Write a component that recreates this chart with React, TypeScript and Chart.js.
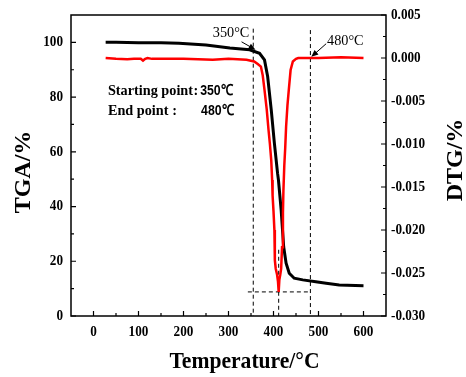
import React, { useEffect, useRef } from "react";
import { Chart, registerables } from "chart.js";

Chart.register(...registerables);

// ---- data ----
const tgaTemp = [27, 50, 100, 150, 190, 250, 303, 347, 369, 380, 387, 395, 402, 409, 411, 415, 417, 422.6, 428, 435, 446, 465, 494, 517, 546, 600];
const tgaValues = [100, 100, 99.9, 99.9, 99.7, 99.0, 97.9, 97.3, 96.0, 93.6, 87.5, 75.3, 63.1, 52.2, 49.7, 42.4, 38.8, 25.3, 19.3, 15.6, 13.8, 13.2, 12.5, 12.0, 11.3, 11.1];

const dtgTemp = [27, 50, 75, 90, 105, 110, 115, 120, 130, 200, 265, 300, 340, 357, 365, 372, 376, 380, 385, 389, 392, 395, 397, 398, 400, 402, 403, 405, 408, 410, 411.5, 413, 415, 417, 419, 421, 422, 424, 426, 428, 431, 434, 438, 443, 450, 455, 500, 550, 600];
const dtgValues = [0, -0.0001, -0.00015, -0.0001, -0.0001, -0.0003, -0.0001, 0, -0.0001, -0.0001, -0.0002, -0.0001, -0.0002, -0.0004, -0.0007, -0.001, -0.002, -0.0037, -0.006, -0.0084, -0.01, -0.0119, -0.0142, -0.016, -0.0178, -0.02, -0.0235, -0.0245, -0.0252, -0.026, -0.0272, -0.0258, -0.0252, -0.0245, -0.022, -0.018, -0.0155, -0.0125, -0.0105, -0.008, -0.0055, -0.0037, -0.0014, -0.0004, -0.0001, 0, 0, 0.0001, 0];

const startTemp = 355;
const endTemp = 482;
const peakTemp = 411.5;
const peakDtg = -0.0272;

const xMajor = [0, 100, 200, 300, 400, 500, 600];
const xMinor = [50, 150, 250, 350, 450, 550];
const yMajor = [0, 20, 40, 60, 80, 100];
const yMinor = [10, 30, 50, 70, 90];
const y1Major = [0.005, 0, -0.005, -0.01, -0.015, -0.02, -0.025, -0.03];
const y1Minor = [0.0025, -0.0025, -0.0075, -0.0125, -0.0175, -0.0225, -0.0275];

const xTitle = "Temperature/°C";
const yTitle = "TGA/%";
const y1Title = "DTG/%";

const SERIF = "'Liberation Serif', 'Times New Roman', serif";
const SANS = "'Liberation Sans', Arial, sans-serif";
const SQ = 0.88;

function txt(ctx: CanvasRenderingContext2D, s: string, x: number, y: number, font: string, align: CanvasTextAlign, base: CanvasTextBaseline, sx = SQ) {
  ctx.save();
  ctx.font = font;
  ctx.textAlign = align;
  ctx.textBaseline = base;
  ctx.translate(x, y);
  ctx.scale(sx, 1);
  ctx.fillStyle = "#000";
  ctx.fillText(s, 0, 0);
  ctx.restore();
}

function arrow(ctx: CanvasRenderingContext2D, x0: number, y0: number, x1: number, y1: number) {
  const a = Math.atan2(y1 - y0, x1 - x0);
  const L = 7, W = 3;
  ctx.save();
  ctx.strokeStyle = "#000";
  ctx.fillStyle = "#000";
  ctx.lineWidth = 1;
  ctx.beginPath();
  ctx.moveTo(x0, y0);
  ctx.lineTo(x1 - Math.cos(a) * L * 0.8, y1 - Math.sin(a) * L * 0.8);
  ctx.stroke();
  ctx.beginPath();
  ctx.moveTo(x1, y1);
  ctx.lineTo(x1 - Math.cos(a) * L - Math.sin(a) * W, y1 - Math.sin(a) * L + Math.cos(a) * W);
  ctx.lineTo(x1 - Math.cos(a) * L + Math.sin(a) * W, y1 - Math.sin(a) * L - Math.cos(a) * W);
  ctx.closePath();
  ctx.fill();
  ctx.restore();
}

const decorPlugin = {
  id: "decor",
  afterDraw(chart: any) {
    const { ctx, chartArea: ca, scales } = chart;
    const sx = scales.x, sy = scales.y, sy1 = scales.y1;
    ctx.save();
    // frame
    ctx.strokeStyle = "#000";
    ctx.lineWidth = 1.5;
    ctx.strokeRect(ca.left, ca.top, ca.right - ca.left, ca.bottom - ca.top);
    // ticks
    ctx.lineWidth = 1.2;
    ctx.beginPath();
    xMajor.forEach((v) => { const p = sx.getPixelForValue(v); ctx.moveTo(p, ca.bottom); ctx.lineTo(p, ca.bottom - 5); });
    xMinor.forEach((v) => { const p = sx.getPixelForValue(v); ctx.moveTo(p, ca.bottom); ctx.lineTo(p, ca.bottom - 3); });
    yMajor.forEach((v) => { const p = sy.getPixelForValue(v); ctx.moveTo(ca.left, p); ctx.lineTo(ca.left + 5, p); });
    yMinor.forEach((v) => { const p = sy.getPixelForValue(v); ctx.moveTo(ca.left, p); ctx.lineTo(ca.left + 3, p); });
    y1Major.forEach((v) => { const p = sy1.getPixelForValue(v); ctx.moveTo(ca.right, p); ctx.lineTo(ca.right - 5, p); });
    y1Minor.forEach((v) => { const p = sy1.getPixelForValue(v); ctx.moveTo(ca.right, p); ctx.lineTo(ca.right - 3, p); });
    ctx.stroke();
    ctx.restore();

    const tickFont = `bold 15px ${SERIF}`;
    xMajor.forEach((v) => txt(ctx, String(v), sx.getPixelForValue(v), ca.bottom + 16, tickFont, "center", "middle"));
    yMajor.forEach((v) => txt(ctx, String(v), ca.left - 8, sy.getPixelForValue(v), tickFont, "right", "middle"));
    y1Major.forEach((v) => {
      const s = Math.abs(v) < 1e-9 ? "0.000" : v.toFixed(3);
      txt(ctx, s, ca.right + 5, sy1.getPixelForValue(v), tickFont, "left", "middle");
    });

    // axis titles
    txt(ctx, xTitle, (ca.left + ca.right) / 2 + 16, 368, `bold 24px ${SERIF}`, "center", "alphabetic", 0.9);
    ctx.save();
    ctx.translate(24, 172);
    ctx.rotate(-Math.PI / 2);
    ctx.font = `bold 24px ${SERIF}`;
    ctx.textAlign = "center";
    ctx.textBaseline = "middle";
    ctx.fillStyle = "#000";
    ctx.fillText(yTitle, 0, 0);
    ctx.restore();
    ctx.save();
    ctx.translate(456, 160);
    ctx.rotate(-Math.PI / 2);
    ctx.font = `bold 24px ${SERIF}`;
    ctx.textAlign = "center";
    ctx.textBaseline = "middle";
    ctx.fillStyle = "#000";
    ctx.fillText(y1Title, 0, 0);
    ctx.restore();

    // annotations (placed in data units)
    const X = (v: number) => sx.getPixelForValue(v);
    const Y = (v: number) => sy.getPixelForValue(v);
    const annFont = `15px ${SERIF}`;
    txt(ctx, `${startTemp - 5}°C`, X(265), Y(102), annFont, "left", "alphabetic", 0.95);
    arrow(ctx, X(329), Y(100.2), X(360), Y(97.3));
    txt(ctx, `${endTemp - 2}°C`, X(519), Y(99.1), annFont, "left", "alphabetic", 0.95);
    arrow(ctx, X(517), Y(99.5), X(484), Y(94.7));

    const lblFont = `bold 15px ${SERIF}`;
    const valFont = `bold 15px ${SANS}`;
    txt(ctx, "Starting point", X(32), Y(80.8), lblFont, "left", "alphabetic", 0.95);
    txt(ctx, ":", X(222), Y(80.8), lblFont, "left", "alphabetic", 0.95);
    txt(ctx, `${startTemp - 5}℃`, X(237), Y(80.8), valFont, "left", "alphabetic", 0.82);
    txt(ctx, "End point", X(32), Y(73.5), lblFont, "left", "alphabetic", 0.95);
    txt(ctx, ":", X(175), Y(73.5), lblFont, "left", "alphabetic", 0.95);
    txt(ctx, `${endTemp - 2}℃`, X(239), Y(73.5), valFont, "left", "alphabetic", 0.82);
  },
};

export default function App() {
  const ref = useRef<HTMLCanvasElement>(null);
  useEffect(() => {
    if (!ref.current) return;
    const dash = { borderColor: "#000", borderWidth: 1, borderDash: [4, 3], pointRadius: 0, fill: false, tension: 0 };
    const chart = new Chart(ref.current, {
      type: "line",
      data: {
        datasets: [
          {
            label: "DTG",
            data: dtgTemp.map((t, i) => ({ x: t, y: dtgValues[i] })),
            yAxisID: "y1",
            borderColor: "#ff0000",
            borderWidth: 2.5,
            pointRadius: 0,
            tension: 0,
            order: 0,
          },
          {
            label: "TGA",
            data: tgaTemp.map((t, i) => ({ x: t, y: tgaValues[i] })),
            yAxisID: "y",
            borderColor: "#000",
            borderWidth: 3,
            pointRadius: 0,
            tension: 0,
            order: 1,
          },
          { ...dash, label: "start", yAxisID: "y", data: [{ x: startTemp, y: 105 }, { x: startTemp, y: 0 }], order: 2 },
          { ...dash, label: "end", yAxisID: "y", data: [{ x: endTemp, y: 104.5 }, { x: endTemp, y: 0 }], order: 2 },
          { ...dash, label: "peakV", yAxisID: "y1", data: [{ x: peakTemp, y: -0.0223 }, { x: peakTemp, y: -0.03 }], order: 2 },
          { ...dash, label: "peakH", yAxisID: "y1", data: [{ x: 343, y: peakDtg }, { x: endTemp, y: peakDtg }], order: 2 },
        ],
      },
      options: {
        animation: false,
        responsive: false,
        devicePixelRatio: 1,
        layout: { padding: { top: 15, left: 0, right: 0, bottom: 0 } },
        plugins: { legend: { display: false }, tooltip: { enabled: false }, title: { display: false } },
        scales: {
          x: {
            type: "linear",
            position: "bottom",
            min: -50,
            max: 650,
            grid: { display: false },
            border: { display: false },
            ticks: { display: false },
            afterFit: (s: any) => { s.height = 61; },
          },
          y: {
            type: "linear",
            position: "left",
            min: 0,
            max: 110,
            grid: { display: false },
            border: { display: false },
            ticks: { display: false },
            afterFit: (s: any) => { s.width = 71; },
          },
          y1: {
            type: "linear",
            position: "right",
            min: -0.03,
            max: 0.005,
            grid: { display: false },
            border: { display: false },
            ticks: { display: false },
            afterFit: (s: any) => { s.width = 80; },
          },
        },
      } as any,
      plugins: [decorPlugin],
    });
    return () => chart.destroy();
  }, []);
  return (
    <div style={{ position: "fixed", left: 0, top: 0, width: 466, height: 377, background: "#fff" }}>
      <canvas ref={ref} width={466} height={377} />
    </div>
  );
}
